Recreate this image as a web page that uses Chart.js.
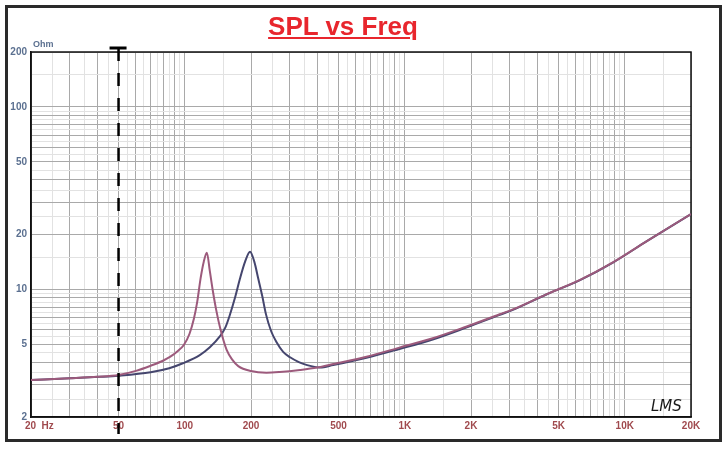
<!DOCTYPE html>
<html>
<head>
<meta charset="utf-8">
<script src="https://cdn.jsdelivr.net/npm/chart.js@4/dist/chart.umd.min.js"></script>
<style>
  body { margin: 0; background: #fff; }
  #wrap { position: relative; width: 725px; height: 450px; }
  #frame { position: absolute; left: 5px; top: 5px; width: 711px; height: 431px; border: 3px solid #2a2a2a; pointer-events: none; }
  #title { position: absolute; left: 0; top: 11px; width: 686px; text-align: center; font: bold 26px "Liberation Sans", Arial, sans-serif; line-height: 30px; color: #e8262d; text-decoration: underline; }
</style>
</head>
<body>
<div id="wrap">
  <canvas id="chart" width="725" height="450"></canvas>
  <div id="frame"></div>
  <div id="title">SPL vs Freq</div>
</div>
<script>
// impedance curves (Hz, Ohm)
const redFreq = [20, 30, 40, 50, 60, 70, 80, 86, 93, 99, 105, 110, 114, 118, 122, 126, 130, 134, 139, 145, 155, 165, 175, 200, 235, 270, 334, 400, 473, 670, 946, 1340, 1900, 2700, 3100, 4400, 6260, 8870, 12600, 20000];
const redOhm = [3.19, 3.26, 3.32, 3.40, 3.58, 3.82, 4.08, 4.28, 4.6, 4.96, 5.7, 6.9, 8.6, 11.5, 14.2, 15.9, 12.6, 9.9, 7.7, 6.1, 4.66, 4.1, 3.8, 3.57, 3.50, 3.53, 3.62, 3.73, 3.90, 4.28, 4.80, 5.40, 6.25, 7.31, 7.77, 9.40, 11.27, 14.1, 18.4, 25.9];

const blueFreq = [20, 30, 41, 50, 70, 85, 98, 117, 130, 144, 153, 160, 170, 178, 188, 198, 207, 216, 225, 234, 247, 261, 280, 301, 330, 357, 412, 473, 670, 946, 1340, 1900, 2700, 3100, 4400, 6260, 8870, 12600, 20000];
const blueOhm = [3.19, 3.26, 3.32, 3.37, 3.52, 3.7, 3.94, 4.37, 4.82, 5.51, 6.2, 7.2, 9.2, 11.4, 14.2, 16.1, 14.2, 11.4, 9.2, 7.3, 5.9, 5.15, 4.55, 4.25, 4.0, 3.86, 3.73, 3.85, 4.22, 4.72, 5.32, 6.18, 7.25, 7.72, 9.38, 11.25, 14.08, 18.38, 25.9];

const xLabels = { 20: '\u2007\u2007\u200720  Hz', 50: '50', 100: '100', 200: '200', 500: '500', 1000: '1K', 2000: '2K', 5000: '5K', 10000: '10K', 20000: '20K' };
const yLabels = { 2: '2', 5: '5', 10: '10', 20: '20', 50: '50', 100: '100', 200: '200' };
const markerFreq = 50;

const gridDark = '#a9a9a9';
const gridLight = '#e2e2e2';
const font = "'Liberation Sans', Arial, sans-serif";

function logTicks(min, max) {
    const out = [];
    for (let d = 1; d <= 10000; d *= 10) {
        for (let n = 1; n < 10; n += 0.5) {
            const v = n * d;
            if (v >= min - 1e-9 && v <= max + 1e-9) out.push({ value: v });
        }
    }
    return out;
}

function gridColor(ctx) {
    const v = ctx.tick.value;
    const m = v / Math.pow(10, Math.floor(Math.log10(v) + 1e-9));
    return Math.abs(m - Math.round(m)) < 1e-6 ? gridDark : gridLight;
}

function pts(f, z) {
    return f.map((v, i) => ({ x: v, y: z[i] }));
}

const extras = {
    id: 'extras',
    beforeDatasetsDraw(chart) {
        const { ctx, chartArea: a } = chart;
        ctx.save();
        ctx.strokeStyle = '#111';
        ctx.lineWidth = 1.5;
        ctx.strokeRect(a.left, a.top, a.right - a.left, a.bottom - a.top);
        ctx.restore();
    },
    afterDatasetsDraw(chart) {
        const { ctx } = chart;
        const x = chart.scales.x.getPixelForValue(markerFreq);
        ctx.save();
        ctx.strokeStyle = '#000';
        ctx.lineWidth = 2.5;
        ctx.setLineDash([13, 12]);
        ctx.beginPath();
        ctx.moveTo(x, 48);
        ctx.lineTo(x, 434);
        ctx.stroke();
        ctx.setLineDash([]);
        ctx.lineWidth = 3;
        ctx.beginPath();
        ctx.moveTo(x - 9, 48);
        ctx.lineTo(x + 8, 48);
        ctx.stroke();

        ctx.fillStyle = '#5b7090';
        ctx.font = 'bold 9px ' + font;
        ctx.textBaseline = 'alphabetic';
        ctx.fillText('Ohm', 33, 47);

        ctx.fillStyle = '#1a1a1a';
        ctx.font = 'oblique 15px "DejaVu Sans", sans-serif';
        ctx.fillText('LMS', 651, 411);
        ctx.restore();
    }
};

new Chart(document.getElementById('chart'), {
    type: 'line',
    data: {
        datasets: [{
            label: 'red',
            data: pts(redFreq, redOhm),
            borderColor: '#9c5a7c',
            borderWidth: 2,
            pointRadius: 0,
            cubicInterpolationMode: 'monotone'
        }, {
            label: 'blue',
            data: pts(blueFreq, blueOhm),
            borderColor: '#45466e',
            borderWidth: 2,
            pointRadius: 0,
            cubicInterpolationMode: 'monotone'
        }]
    },
    options: {
        responsive: false,
        animation: false,
        layout: { padding: { top: 52, right: 34, left: 0, bottom: 0 } },
        plugins: { legend: { display: false }, tooltip: { enabled: false } },
        scales: {
            x: {
                type: 'logarithmic',
                min: 20,
                max: 20000,
                afterBuildTicks: s => { s.ticks = logTicks(s.min, s.max); },
                afterFit: s => { s.height = 33; },
                grid: { color: gridColor, drawTicks: false, lineWidth: 1 },
                border: { display: true, color: '#111', width: 1.5 },
                ticks: {
                    autoSkip: false,
                    maxRotation: 0,
                    padding: 3,
                    color: '#a04a4e',
                    font: { family: font, size: 10, weight: 'bold' },
                    callback: v => xLabels[v] ?? ''
                }
            },
            y: {
                type: 'logarithmic',
                min: 2,
                max: 200,
                afterBuildTicks: s => { s.ticks = logTicks(s.min, s.max); },
                afterFit: s => { s.width = 31; },
                grid: { color: gridColor, drawTicks: false, lineWidth: 1 },
                border: { display: true, color: '#111', width: 1.5 },
                ticks: {
                    autoSkip: false,
                    padding: 4,
                    color: '#5b7090',
                    font: { family: font, size: 10, weight: 'bold' },
                    callback: v => yLabels[v] ?? ''
                }
            }
        }
    },
    plugins: [extras]
});
</script>
</body>
</html>
